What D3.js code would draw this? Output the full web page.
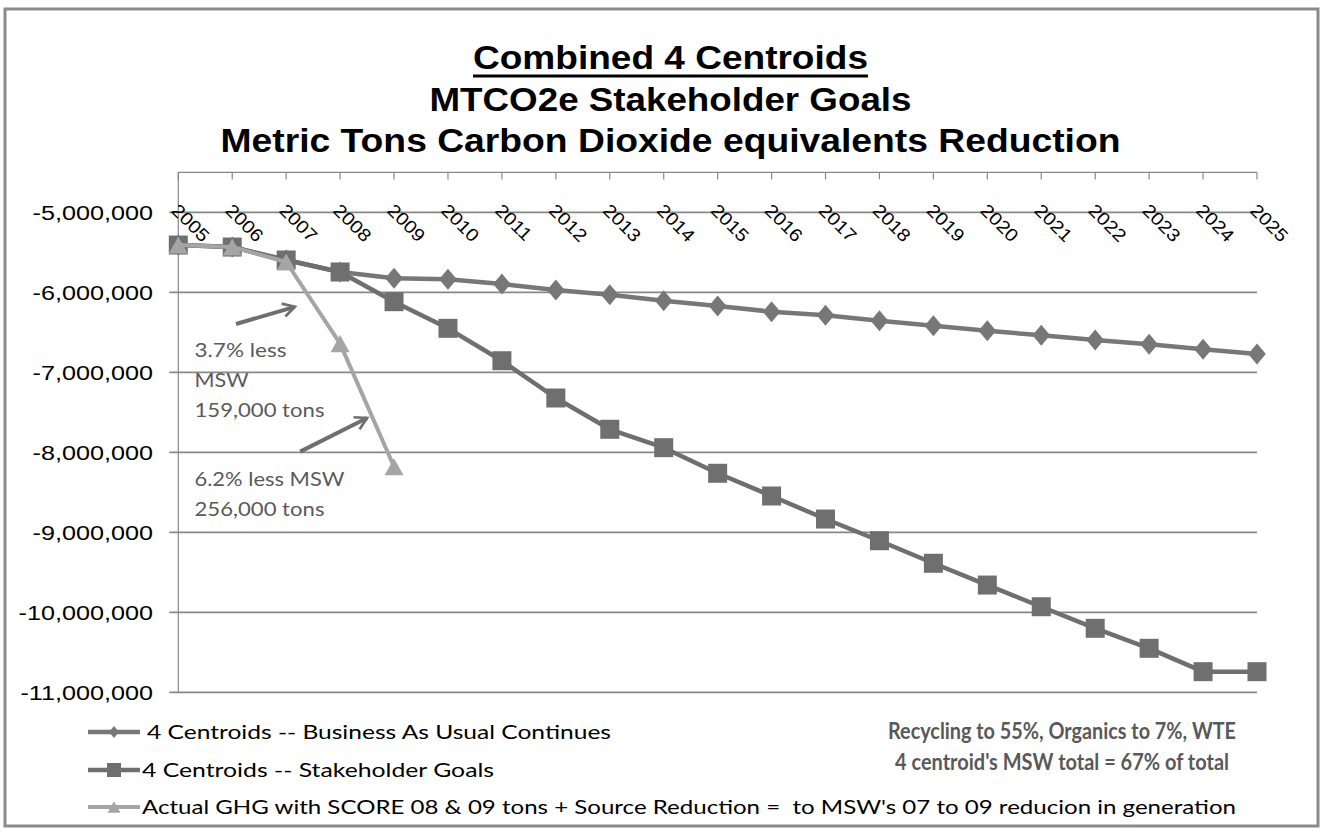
<!DOCTYPE html>
<html>
<head>
<meta charset="utf-8">
<script src="https://cdn.jsdelivr.net/npm/d3@7"></script>
<style>
  body { margin: 0; background: #fff; }
  svg text { white-space: pre; }
</style>
</head>
<body>
<div id="chart"></div>
<script>
// chart values
const years = [2005, 2006, 2007, 2008, 2009, 2010, 2011, 2012, 2013, 2014, 2015,
    2016, 2017, 2018, 2019, 2020, 2021, 2022, 2023, 2024, 2025];
const businessAsUsual = [-5408000, -5433000, -5595000, -5745000, -5824000, -5836000,
    -5895000, -5970000, -6029000, -6104000, -6170000, -6241000, -6286000, -6354000,
    -6416000, -6479000, -6536000, -6595000, -6649000, -6711000, -6770000];
const stakeholderGoals = [-5408000, -5433000, -5595000, -5745000, -6116000, -6449000,
    -6854000, -7320000, -7711000, -7941000, -8261000, -8545000, -8833000, -9104000,
    -9386000, -9658000, -9929000, -10199000, -10449000, -10741000, -10741000];
const actualYears = [2005, 2006, 2007, 2008, 2009];
const actualGHG = [-5408000, -5433000, -5620000, -6640000, -8180000];
const yTicks = [-5000000, -6000000, -7000000, -8000000, -9000000, -10000000, -11000000];

const titleLines = ["Combined 4 Centroids", "MTCO2e Stakeholder Goals",
    "Metric Tons Carbon Dioxide equivalents Reduction"];
const seriesNames = ["4 Centroids -- Business As Usual Continues",
    "4 Centroids -- Stakeholder Goals",
    "Actual GHG with SCORE 08 & 09 tons + Source Reduction =  to MSW's 07 to 09 reducion in generation"];
const noteLines = ["Recycling to 55%, Organics to 7%, WTE", "4 centroid's MSW total = 67% of total"];
const callout1 = ["3.7% less", "MSW", "159,000 tons"];
const callout2 = ["6.2% less MSW", "256,000 tons"];

const width = 1322, height = 833;
const margin = {top: 172.4, right: 65, bottom: 140.6, left: 178.3};

const svg = d3.select("#chart").append("svg")
    .attr("width", width)
    .attr("height", height);

// outer frame
svg.append("rect")
    .attr("x", 5).attr("y", 9)
    .attr("width", 1313).attr("height", 817)
    .attr("fill", "#fff")
    .attr("stroke", "#8a8a8a")
    .attr("stroke-width", 3);

const xScale = d3.scalePoint()
    .domain(years)
    .range([margin.left, width - margin.right]);
const yScale = d3.scaleLinear()
    .domain([-11000000, -4500000])
    .range([height - margin.bottom, margin.top]);

// title
const titleFont = "'Liberation Sans', Arial, sans-serif";
const titleSpecs = [
    {base: 69, len: 395},
    {base: 111, len: 482},
    {base: 152, len: 900}
];
titleLines.forEach((t, i) => {
    svg.append("text")
        .attr("x", 670.5)
        .attr("y", titleSpecs[i].base)
        .attr("text-anchor", "middle")
        .attr("font-family", titleFont)
        .attr("font-weight", "bold")
        .attr("font-size", 34)
        .attr("textLength", titleSpecs[i].len)
        .attr("lengthAdjust", "spacingAndGlyphs")
        .attr("fill", "#000")
        .text(t);
});
svg.append("line")
    .attr("x1", 473).attr("x2", 868)
    .attr("y1", 76).attr("y2", 76)
    .attr("stroke", "#000")
    .attr("stroke-width", 3);

// gridlines + y axis
const grid = svg.append("g");
grid.selectAll("line")
    .data(yTicks)
    .join("line")
    .attr("x1", margin.left - 9)
    .attr("x2", width - margin.right)
    .attr("y1", d => yScale(d))
    .attr("y2", d => yScale(d))
    .attr("stroke", "#888")
    .attr("stroke-width", 1.6);

svg.append("line")
    .attr("x1", margin.left).attr("x2", margin.left)
    .attr("y1", margin.top).attr("y2", yScale(-11000000))
    .attr("stroke", "#888")
    .attr("stroke-width", 1.2);

const fmt = d => d3.format(",")(d).replace("\u2212", "-");
svg.append("g").selectAll("text")
    .data(yTicks)
    .join("text")
    .attr("transform", d => `translate(153,${yScale(d) + 7.5}) scale(1.2,1)`)
    .attr("text-anchor", "end")
    .attr("font-family", titleFont)
    .attr("font-size", 21)
    .attr("fill", "#000")
    .text(fmt);

// x axis sits on top
svg.append("line")
    .attr("x1", margin.left).attr("x2", width - margin.right)
    .attr("y1", margin.top).attr("y2", margin.top)
    .attr("stroke", "#888")
    .attr("stroke-width", 1.2);
svg.append("g").selectAll("line")
    .data(years)
    .join("line")
    .attr("x1", d => xScale(d)).attr("x2", d => xScale(d))
    .attr("y1", margin.top).attr("y2", margin.top + 7)
    .attr("stroke", "#888")
    .attr("stroke-width", 1.2);
svg.append("g").selectAll("text")
    .data(years)
    .join("text")
    .attr("transform", d => `translate(${xScale(d) - 8},${yScale(-5000000) - 1}) rotate(45) scale(1.12,1)`)
    .attr("font-family", titleFont)
    .attr("font-size", 18)
    .attr("fill", "#000")
    .text(d => d);

// marker shapes
function diamond(s) {
    const w = s * 0.42, h = s * 0.5;
    return `M0,${-h}L${w},0L0,${h}L${-w},0Z`;
}
function square(s) {
    const h = s / 2;
    return `M${-h},${-h}H${h}V${h}H${-h}Z`;
}
function triangle(s) {
    const w = s / 2, h = s * 0.45;
    return `M0,${-h}L${w},${h}L${-w},${h}Z`;
}

const series = [
    {name: seriesNames[0], x: years, y: businessAsUsual, color: "#777777", lw: 4.5, shape: diamond, size: 21, legSize: 12},
    {name: seriesNames[1], x: years, y: stakeholderGoals, color: "#6f6f6f", lw: 4.5, shape: square, size: 19, legSize: 14},
    {name: seriesNames[2], x: actualYears, y: actualGHG, color: "#a5a5a5", lw: 4, shape: triangle, size: 19, legSize: 13}
];

const line = d3.line()
    .x(d => xScale(d[0]))
    .y(d => yScale(d[1]));

series.forEach(s => {
    const pts = s.x.map((yr, i) => [yr, s.y[i]]);
    const g = svg.append("g");
    g.append("path")
        .attr("d", line(pts))
        .attr("fill", "none")
        .attr("stroke", s.color)
        .attr("stroke-width", s.lw)
        .attr("stroke-linejoin", "round");
    g.selectAll("path.mk")
        .data(pts)
        .join("path")
        .attr("class", "mk")
        .attr("transform", d => `translate(${xScale(d[0])},${yScale(d[1])})`)
        .attr("d", s.shape(s.size))
        .attr("fill", s.color);
});

// callouts, anchored in data space
const arrowColor = "#6f6f6f";
svg.append("defs").append("marker")
    .attr("id", "head")
    .attr("viewBox", "0 0 10 10")
    .attr("refX", 8).attr("refY", 5)
    .attr("markerWidth", 4.2).attr("markerHeight", 4.2)
    .attr("orient", "auto")
    .append("path")
    .attr("d", "M1,1L8,5L1,9")
    .attr("fill", "none")
    .attr("stroke", arrowColor)
    .attr("stroke-width", 1.6);

const arrows = [
    [[2006.07, -6395000], [2007.16, -6180000]],
    [[2007.26, -7990000], [2008.5, -7570000]]
];
const xNum = d3.scaleLinear().domain([2005, 2025]).range(xScale.range());
arrows.forEach(a => {
    svg.append("line")
        .attr("x1", xNum(a[0][0])).attr("y1", yScale(a[0][1]))
        .attr("x2", xNum(a[1][0])).attr("y2", yScale(a[1][1]))
        .attr("stroke", arrowColor)
        .attr("stroke-width", 4)
        .attr("marker-end", "url(#head)");
});

const calloutFont = "Lato, 'Open Sans', sans-serif";
const callouts = [
    {lines: callout1, yr: 2005.3, top: -6720000, lens: [92, 54, 130]},
    {lines: callout2, yr: 2005.3, top: -8330000, lens: [150, 130]}
];
callouts.forEach(c => {
    c.lines.forEach((t, i) => {
        svg.append("text")
            .attr("x", xNum(c.yr))
            .attr("y", yScale(c.top) + 7 + i * 30)
            .attr("font-family", calloutFont)
            .attr("font-size", 20)
            .attr("textLength", c.lens[i])
            .attr("lengthAdjust", "spacingAndGlyphs")
            .attr("fill", "#5a5a5a")
            .text(t);
    });
});

// legend
const legendFont = "Lato, 'Open Sans', sans-serif";
const legendRows = [
    {y: 732, tx: 147, len: 464},
    {y: 770, tx: 142, len: 352},
    {y: 807, tx: 142, len: 1094}
];
series.forEach((s, i) => {
    const r = legendRows[i];
    const g = svg.append("g").attr("transform", `translate(0,${r.y})`);
    g.append("line")
        .attr("x1", 88).attr("x2", 140)
        .attr("stroke", s.color)
        .attr("stroke-width", s.lw);
    g.append("path")
        .attr("transform", "translate(114,0)")
        .attr("d", s.shape(s.legSize))
        .attr("fill", s.color);
    g.append("text")
        .attr("x", r.tx)
        .attr("y", 7)
        .attr("font-family", legendFont)
        .attr("font-size", 20)
        .attr("textLength", r.len)
        .attr("lengthAdjust", "spacingAndGlyphs")
        .attr("fill", "#000")
        .text(s.name);
});

// side note
noteLines.forEach((t, i) => {
    svg.append("text")
        .attr("x", 1062)
        .attr("y", 739 + i * 31)
        .attr("text-anchor", "middle")
        .attr("font-family", legendFont)
        .attr("font-weight", "bold")
        .attr("font-size", 22)
        .attr("textLength", i === 0 ? 348 : 334)
        .attr("lengthAdjust", "spacingAndGlyphs")
        .attr("fill", "#595959")
        .text(t);
});
</script>
</body>
</html>
